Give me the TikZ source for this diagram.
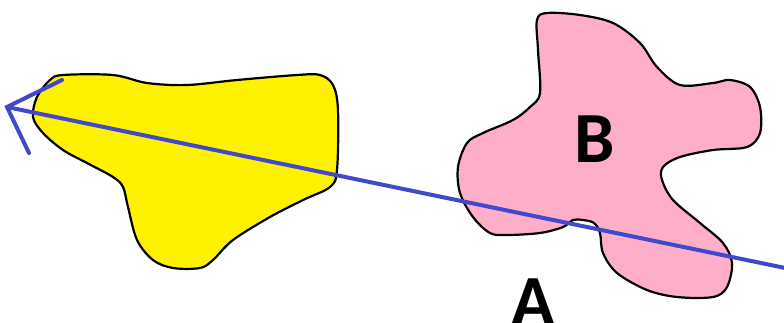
\documentclass[tikz,border=0pt]{standalone}
\usepackage{fontspec}
\setmainfont{Carlito}
\definecolor{blobyellow}{HTML}{FFF200}
\definecolor{blobpink}{HTML}{FFAEC9}
\definecolor{rayblue}{HTML}{4048CC}
\begin{document}
\begin{tikzpicture}[x=1pt,y=-1pt,
  blob/.style={draw=black,line width=2.2pt,line join=round},
  ray/.style={draw=rayblue,line width=4pt,line cap=round},
  letter/.style={font=\bfseries\fontsize{72}{72}\selectfont,inner sep=0pt,anchor=base}]
\useasboundingbox (0,0) rectangle (784,322);
\clip (0,0) rectangle (784,322);
% yellow blob
\path[blob,fill=blobyellow] plot[smooth cycle,tension=0.55] coordinates {
 (63,75) (113,75) (147,83) (187,85) (237,80) (297,75) (320,75) (333,85)
 (338,110) (337,170) (330,187) (303,200) (270,217) (233,240) (213,260)
 (200,268) (173,268) (153,260) (137,240) (128,207) (123,187) (113,177)
 (87,163) (63,150) (43,133) (33,117) (37,97) (50,80)};
% pink blob
\path[blob,fill=blobpink] plot[smooth cycle,tension=0.55] coordinates {
 (537,20) (547,13) (580,15) (613,23) (640,43) (657,67) (680,85) (713,83)
 (730,80) (750,87) (760,107) (760,133) (747,147) (713,150) (680,157)
 (663,167) (662,180) (673,200) (700,223) (723,243) (732,263) (727,287)
 (713,297) (677,297) (647,290) (617,273) (603,253) (600,233) (594,223)
 (583,220) (573,220) (563,227) (540,233) (507,235) (490,233) (473,217)
 (460,193) (458,167) (467,143) (483,133) (513,120) (530,107) (540,93)
 (538,50)};
% ray with hand-drawn arrowhead
\coordinate (tip) at (7,107);
\coordinate (far) at (790,269);
\coordinate (armup) at (62,80);
\coordinate (armdown) at (29,153);
\path[ray] (far) -- (tip);
\path[ray] (armup) -- (tip) -- (armdown);
% labels
\node[letter] (labB) at (595,162) {B};
\node[letter] (labA) at (533,325) {A};
\end{tikzpicture}
\end{document}
